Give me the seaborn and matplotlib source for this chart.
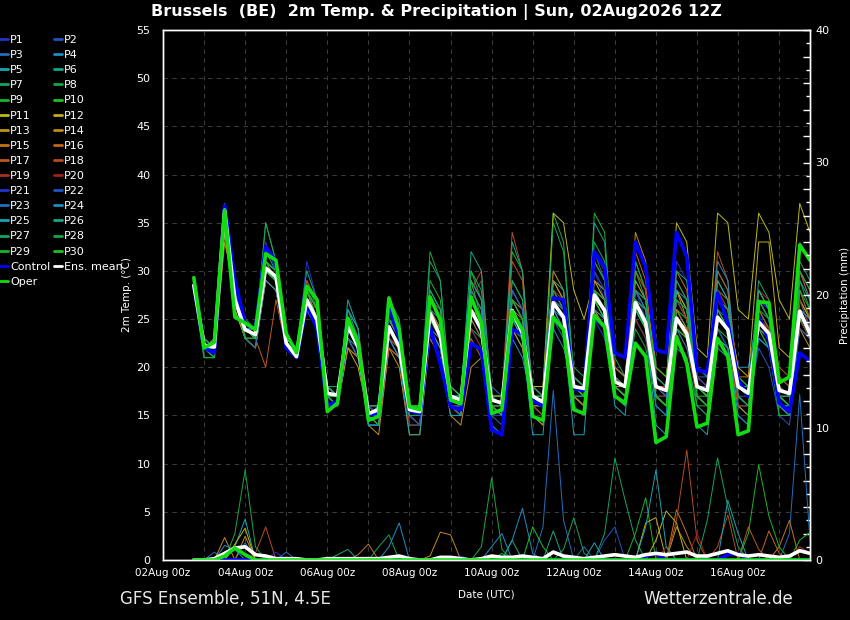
import numpy as np
import pandas as pd
import matplotlib
matplotlib.use('Agg')
import matplotlib.pyplot as plt
import matplotlib.dates as mdates
from matplotlib.lines import Line2D
from matplotlib.ticker import MultipleLocator, FuncFormatter
import seaborn as sns

# 6-hourly steps of the 02Aug2026 12Z run
TIMES = pd.date_range('2026-08-02 18:00', '2026-08-17 18:00', freq='6h')

# perturbed members, 2m temperature (deg C)
MEMBER_TEMP = {
    'P1':  [29, 22,21,36,28, 24,23,31,29, 22,21,28,25, 17,17,25,22, 15,16,23,21, 15,15,26,24, 17,16,24,22, 16,15,27,25, 18,17,28,26, 19,18,30,27, 20,19,28,25, 18,17,23,21, 16,15,22,21, 17,16,27,26, 19,18,30,27],
    'P2':  [29, 23,22,35,27, 23,23,30,29, 23,22,26,24, 18,18,23,21, 16,16,25,23, 16,15,24,22, 16,16,26,24, 17,17,24,22, 16,15,27,26, 18,17,25,24, 17,16,29,27, 19,18,27,25, 20,19,24,22, 17,16,22,20, 15,14,24,23],
    'P3':  [28, 22,22,37,27, 24,24,31,30, 22,21,27,25, 17,16,24,22, 15,15,23,21, 15,15,27,25, 17,17,25,23, 15,14,24,22, 17,16,25,23, 17,16,29,28, 20,19,31,28, 18,17,24,23, 19,19,26,25, 18,17,27,25, 17,16,25,23],
    'P4':  [29, 22,22,36,28, 23,23,29,28, 23,22,26,24, 17,17,25,23, 16,15,25,23, 14,14,24,22, 17,17,27,25, 17,16,23,21, 16,16,28,26, 18,18,27,25, 17,16,25,23, 17,17,28,26, 19,18,27,26, 20,20,26,24, 18,17,27,25],
    'P5':  [28, 22,23,36,27, 24,23,30,29, 22,21,28,26, 18,17,26,23, 14,14,24,22, 16,16,26,24, 16,15,26,24, 17,17,27,25, 15,14,26,25, 19,18,28,26, 19,18,26,24, 16,15,26,24, 18,17,29,27, 16,15,23,22, 16,15,27,24],
    'P6':  [29, 23,22,37,27, 24,24,32,30, 22,21,27,25, 17,17,23,22, 15,16,26,24, 16,15,25,23, 18,17,28,26, 16,16,26,24, 17,17,27,26, 17,16,26,24, 18,18,27,26, 19,18,27,25, 17,16,25,24, 18,18,28,26, 17,16,26,24],
    'P7':  [29, 22,22,35,26, 23,22,29,28, 23,22,29,26, 18,18,24,22, 16,16,27,25, 15,14,28,26, 16,15,24,23, 16,15,29,27, 18,18,30,28, 20,19,33,31, 21,19,27,24, 16,15,24,23, 17,16,22,21, 16,16,26,25, 18,17,29,26],
    'P8':  [28, 21,21,36,27, 24,23,35,31, 23,22,28,26, 17,17,24,22, 15,15,25,23, 16,16,32,29, 17,16,27,25, 17,16,26,24, 16,15,36,33, 19,18,28,26, 18,17,24,22, 17,16,26,24, 16,15,28,26, 19,18,24,23, 16,16,28,25],
    'P9':  [29, 22,21,36,27, 24,24,31,29, 22,21,27,24, 17,16,24,22, 15,15,23,22, 15,15,27,25, 17,16,30,27, 17,16,32,30, 17,17,27,25, 17,16,36,34, 19,18,31,28, 19,18,25,23, 18,17,30,28, 18,17,26,24, 15,15,25,23],
    'P10': [29, 22,22,36,28, 23,23,31,30, 22,21,28,25, 16,16,25,23, 15,15,24,22, 15,14,25,24, 16,16,26,24, 16,15,25,23, 18,17,27,26, 17,17,27,25, 18,17,26,24, 17,16,26,25, 17,17,24,22, 17,16,25,24, 17,16,27,25],
    'P11': [29, 23,22,35,27, 24,24,30,29, 22,22,26,24, 18,17,23,21, 16,15,23,22, 16,16,24,23, 18,17,27,25, 16,16,25,24, 18,18,36,35, 28,25,29,27, 20,19,28,26, 19,18,35,33, 22,21,36,35, 26,25,36,34, 27,25,37,34],
    'P12': [28, 22,21,34,26, 23,22,29,28, 23,22,27,25, 17,16,22,20, 15,14,22,21, 15,15,25,23, 16,16,28,26, 17,17,24,23, 16,16,29,27, 19,18,26,24, 18,18,30,28, 20,19,28,26, 18,17,27,26, 20,19,33,33, 22,21,30,28],
    'P13': [28, 22,21,33,28, 23,23,29,28, 22,21,26,24, 16,16,22,21, 14,13,22,20, 13,13,23,21, 15,14,20,21, 16,15,24,22, 15,14,25,24, 17,16,28,27, 19,18,29,27, 18,17,25,24, 17,16,25,24, 18,17,25,24, 19,18,27,25],
    'P14': [29, 23,22,35,27, 24,23,30,29, 23,22,28,25, 17,17,24,22, 16,15,25,23, 16,16,26,24, 17,16,26,25, 17,17,27,26, 18,17,29,27, 18,18,29,28, 18,17,34,31, 20,19,28,25, 18,17,23,22, 16,15,28,26, 18,17,24,22],
    'P15': [29, 22,22,36,28, 23,22,30,29, 22,22,28,26, 18,17,22,21, 15,15,25,23, 15,14,24,23, 17,17,25,23, 16,15,28,26, 18,17,27,26, 17,16,26,24, 18,18,27,25, 17,16,30,28, 19,18,28,27, 19,19,24,23, 16,15,26,25],
    'P16': [28, 22,21,35,27, 24,24,31,29, 23,22,27,25, 17,16,25,23, 15,15,23,22, 16,15,26,24, 16,15,23,21, 15,15,26,25, 17,16,30,28, 18,17,31,29, 20,19,32,29, 18,17,26,24, 17,16,27,25, 17,16,24,23, 17,17,24,23],
    'P17': [29, 22,23,36,28, 24,23,20,27, 22,21,28,26, 18,17,24,22, 15,14,22,21, 16,16,25,23, 16,15,29,27, 17,16,31,29, 16,15,26,24, 18,17,32,30, 19,18,27,25, 17,16,25,23, 19,18,30,28, 18,17,27,25, 20,19,30,27],
    'P18': [28, 22,22,36,27, 23,23,31,30, 23,22,29,27, 17,17,26,24, 16,16,25,23, 15,15,27,26, 17,16,28,30, 17,17,34,30, 17,16,28,26, 19,18,28,27, 18,17,27,26, 18,18,29,27, 19,18,32,29, 18,17,26,24, 18,17,28,25],
    'P19': [29, 23,22,35,28, 24,23,30,29, 22,21,27,26, 17,16,25,23, 16,15,24,22, 14,14,24,22, 16,16,27,29, 16,15,26,24, 16,15,28,27, 19,18,26,25, 18,17,30,28, 18,17,24,22, 17,16,26,24, 16,16,28,27, 19,18,25,23],
    'P20': [28, 22,21,36,28, 23,23,30,29, 23,22,27,25, 17,16,24,22, 15,15,23,22, 16,15,25,23, 17,16,24,22, 16,16,27,25, 18,17,27,25, 18,17,27,26, 19,18,25,23, 17,17,27,25, 18,18,28,26, 17,16,25,24, 16,15,27,24],
    'P21': [29, 22,21,37,29, 24,24,33,30, 22,21,31,27, 17,17,24,22, 16,15,24,22, 15,14,25,23, 16,16,26,24, 15,15,28,26, 17,16,26,24, 17,17,25,23, 18,17,26,24, 19,18,31,29, 19,18,24,22, 15,14,27,26, 18,17,33,31],
    'P22': [29, 22,22,36,27, 24,23,30,29, 23,22,27,25, 16,16,23,21, 15,15,26,24, 15,15,24,23, 17,17,26,24, 17,16,24,23, 17,16,27,26, 16,15,30,28, 18,17,28,27, 18,17,27,26, 18,18,26,24, 17,17,25,23, 17,16,24,23],
    'P23': [28, 21,21,36,27, 23,22,29,28, 22,21,27,25, 18,17,26,24, 14,14,24,22, 16,16,27,25, 16,15,28,26, 18,17,28,26, 18,17,27,25, 18,17,32,29, 18,17,28,26, 16,15,24,22, 18,17,26,24, 19,18,27,25, 17,16,26,24],
    'P24': [29, 23,22,36,28, 24,24,31,30, 22,22,26,24, 17,17,25,23, 15,15,24,22, 15,15,26,25, 17,17,29,27, 16,15,25,24, 17,16,24,22, 18,18,26,25, 17,16,26,24, 17,16,28,27, 20,19,31,29, 17,16,23,22, 16,16,26,25],
    'P25': [29, 22,22,35,27, 24,23,30,29, 22,21,26,24, 17,16,27,24, 14,14,23,21, 13,13,24,22, 15,15,26,24, 14,13,25,23, 13,13,26,24, 13,13,27,25, 16,15,26,24, 14,13,22,21, 14,13,23,22, 15,14,24,22, 16,15,26,23],
    'P26': [28, 22,21,36,27, 24,23,30,29, 23,22,30,27, 18,17,25,23, 16,16,25,23, 16,16,28,26, 18,17,32,30, 17,16,33,30, 17,16,29,28, 17,17,35,33, 18,17,27,26, 17,16,30,29, 18,17,29,27, 18,17,28,26, 17,17,29,27],
    'P27': [29, 22,21,36,27, 25,24,35,31, 22,21,28,25, 17,17,26,24, 15,15,27,25, 16,16,31,29, 17,17,30,28, 17,16,29,27, 18,17,35,32, 19,18,31,29, 19,18,28,27, 19,18,29,27, 17,16,27,26, 18,17,29,27, 17,16,31,29],
    'P28': [29, 22,22,37,28, 23,23,31,29, 22,21,27,25, 18,17,24,22, 15,14,25,24, 15,15,25,24, 17,16,27,25, 16,16,27,25, 17,16,28,26, 19,18,28,27, 18,17,27,25, 17,16,23,21, 16,16,25,24, 17,16,24,22, 15,15,30,28],
    'P29': [28, 21,21,36,27, 23,23,31,30, 23,22,28,26, 17,17,24,22, 15,15,24,22, 16,16,29,27, 17,16,29,25, 16,15,27,25, 17,17,25,24, 18,17,27,26, 17,16,30,27, 20,19,27,26, 17,16,24,23, 19,18,27,25, 18,17,28,26],
    'P30': [29, 22,22,35,27, 24,23,30,29, 22,21,27,25, 17,16,24,22, 15,15,24,22, 16,15,25,23, 17,16,26,24, 17,17,25,24, 17,16,27,25, 18,17,27,25, 18,17,26,24, 17,16,24,23, 18,17,26,24, 18,17,25,23, 17,16,25,24],
}

CONTROL_TEMP = [28.5, 22.0, 21.5, 36.8, 29.0, 24.5, 24.0, 32.5, 31.0, 22.0,
                21.0, 26.5, 24.0, 16.0, 16.5, 24.5, 22.0, 15.0, 15.3, 26.3,
                23.0, 15.5, 15.2, 24.2, 20.4, 15.9, 15.6, 22.5, 21.8, 13.5,
                13.0, 23.9, 23.5, 16.5, 16.0, 27.2, 27.0, 17.8, 17.6, 32.0,
                30.4, 21.5, 21.0, 33.0, 30.4, 21.8, 21.5, 34.0, 31.5, 19.7,
                19.5, 27.7, 24.6, 18.7, 17.0, 25.2, 22.8, 16.3, 15.4, 21.5, 20.6]
ENS_MEAN_TEMP = [28.5, 22.3, 22.1, 36.3, 27.0, 23.9, 23.4, 30.3, 29.4, 22.5,
                 21.1, 27.0, 24.9, 17.3, 17.1, 24.3, 22.1, 15.2, 15.6, 24.2,
                 22.1, 15.6, 15.4, 25.6, 23.2, 17.0, 16.6, 25.9, 23.9, 16.6,
                 16.3, 25.9, 23.5, 17.0, 16.4, 26.7, 25.2, 18.0, 17.8, 27.5,
                 25.9, 18.5, 18.0, 26.7, 24.6, 18.0, 17.6, 25.1, 23.5, 18.0,
                 17.6, 25.2, 23.9, 18.0, 17.3, 24.7, 23.5, 17.6, 17.3, 25.8, 23.5]
OPER_TEMP = [29.3, 22.0, 22.6, 36.3, 25.2, 24.6, 23.9, 31.8, 31.1, 23.5,
             21.5, 28.4, 27.0, 15.4, 16.3, 25.1, 22.5, 14.5, 14.9, 27.2,
             23.9, 15.9, 15.6, 27.3, 24.9, 16.6, 16.2, 27.3, 24.6, 15.2,
             15.6, 25.8, 23.9, 14.9, 14.5, 25.2, 23.9, 15.6, 15.2, 25.4,
             24.2, 17.0, 16.3, 22.5, 21.1, 12.2, 12.8, 23.2, 20.4, 13.8,
             14.2, 23.0, 21.1, 13.0, 13.4, 26.8, 26.7, 18.4, 19.0, 32.7, 31.1]

# precipitation (mm / 6h): only the non-zero steps of each member, step index -> mm
MEMBER_PRECIP = {
    'P3':  {2: 0.6, 5: 1.3, 9: 0.6, 34: 2.5, 35: 12.8, 36: 3.0, 58: 2.0, 59: 12.5, 60: 1.5},
    'P4':  {19: 1.0, 20: 2.8, 31: 1.5, 32: 3.9, 33: 0.5},
    'P5':  {4: 1.0, 5: 3.1},
    'P6':  {31: 1.5, 35: 2.2},
    'P7':  {18: 1.0, 19: 1.9, 40: 2.0, 41: 7.7, 42: 4.5, 43: 1.5},
    'P8':  {4: 2.0, 5: 6.8, 6: 1.0, 28: 1.0, 29: 6.2, 30: 0.8},
    'P9':  {43: 2.0, 44: 4.7, 54: 2.0, 55: 7.2, 56: 3.3, 57: 1.0},
    'P10': {33: 2.5, 34: 1.0},
    'P11': {4: 1.2, 5: 2.4, 45: 1.5, 46: 3.7, 47: 2.8},
    'P12': {44: 2.8, 45: 3.2},
    'P13': {47: 2.5, 48: 1.0},
    'P14': {3: 1.7, 5: 1.8, 23: 0.3, 24: 2.1, 25: 1.9},
    'P15': {16: 0.4, 17: 1.2, 47: 3.8, 48: 2.0, 57: 1.0, 58: 3.0},
    'P16': {56: 2.2, 57: 0.5},
    'P17': {54: 2.5, 55: 0.8},
    'P18': {6: 0.5, 7: 2.5, 47: 3.0, 48: 8.3, 49: 1.5, 51: 1.0, 52: 3.4},
    'P19': {59: 1.0, 60: 0.5},
    'P20': {46: 1.0, 49: 2.0},
    'P21': {8: 0.6, 26: 0.3},
    'P22': {40: 1.5, 41: 2.5},
    'P23': {38: 1.0},
    'P24': {3: 1.1, 4: 0.8, 29: 1.0, 30: 2.0},
    'P25': {39: 1.3, 44: 2.5, 45: 6.8, 46: 1.0, 52: 4.5, 53: 2.0},
    'P26': {14: 0.4, 15: 0.8},
    'P27': {36: 0.8, 37: 3.2, 38: 0.5, 50: 3.0, 51: 7.7, 52: 4.0, 53: 1.0},
    'P29': {30: 0.5, 59: 1.5, 60: 2.1},
}
CONTROL_PRECIP = {44: 0.3, 45: 0.5, 52: 0.4, 53: 0.5}
OPER_PRECIP = {3: 0.3, 4: 0.9, 5: 0.4}
ENS_MEAN_PRECIP = [0, 0, 0.1, 0.5, 0.9, 1.0, 0.4, 0.3, 0.1, 0.1,
                   0.1, 0, 0, 0.1, 0.1, 0.1, 0.1, 0.1, 0.1, 0.2,
                   0.3, 0.1, 0, 0, 0.2, 0.2, 0.1, 0, 0.1, 0.3,
                   0.2, 0.2, 0.3, 0.2, 0.1, 0.6, 0.3, 0.2, 0.1, 0.2,
                   0.3, 0.4, 0.3, 0.2, 0.4, 0.5, 0.4, 0.5, 0.6, 0.3,
                   0.3, 0.5, 0.7, 0.4, 0.3, 0.4, 0.3, 0.2, 0.3, 0.7, 0.5]

BASE_COLORS = ['#2233cc', '#1f55c4', '#1e6fbf', '#1a8fc4', '#17a5b5',
               '#12a88a', '#12a463', '#14a845', '#16b52a', '#1ec41a',
               '#bdbb12', '#c4ad10', '#c49512', '#c48a12', '#c27415',
               '#c26718', '#c0561e', '#b84a20', '#a83022', '#a02020']
MEMBER_NAMES = list(MEMBER_TEMP.keys())
MEMBER_COLORS = {name: BASE_COLORS[i % 20] if i < 20 else BASE_COLORS[i - 20]
                 for i, name in enumerate(MEMBER_NAMES)}
CONTROL_COLOR = '#0000ff'
OPER_COLOR = '#11dd11'
MEAN_COLOR = '#ffffff'
FG = 'white'


def spikes_to_series(spikes):
    values = np.zeros(len(TIMES))
    for k, v in spikes.items():
        values[k] = v
    return values


frames = []
for name in MEMBER_NAMES:
    frames.append(pd.DataFrame({
        'time': TIMES,
        'temp': MEMBER_TEMP[name],
        'precip': spikes_to_series(MEMBER_PRECIP.get(name, {})),
        'member': name,
    }))
members = pd.concat(frames, ignore_index=True)

sns.set_style('dark', {'axes.facecolor': 'black', 'figure.facecolor': 'black'})
plt.rcParams['font.family'] = ['DejaVu Sans']

fig = plt.figure(figsize=(8.5, 6.2), dpi=100, facecolor='black')
ax = fig.add_axes([163 / 850, 60 / 620, 647 / 850, 530 / 620])
ax.set_facecolor('black')
ax2 = ax.twinx()
ax2.patch.set_visible(False)

# temperature
sns.lineplot(data=members, x='time', y='temp', hue='member', hue_order=MEMBER_NAMES,
             palette=MEMBER_COLORS, lw=0.7, estimator=None, legend=False, ax=ax)
sns.lineplot(x=TIMES, y=CONTROL_TEMP, color=CONTROL_COLOR, lw=2.6, ax=ax)
sns.lineplot(x=TIMES, y=ENS_MEAN_TEMP, color=MEAN_COLOR, lw=2.6, ax=ax)
sns.lineplot(x=TIMES, y=OPER_TEMP, color=OPER_COLOR, lw=2.6, ax=ax)

# precipitation on the right axis
sns.lineplot(data=members, x='time', y='precip', hue='member', hue_order=MEMBER_NAMES,
             palette=MEMBER_COLORS, lw=0.7, estimator=None, legend=False, ax=ax2)
sns.lineplot(x=TIMES, y=spikes_to_series(CONTROL_PRECIP), color=CONTROL_COLOR, lw=2.6, ax=ax2)
sns.lineplot(x=TIMES, y=ENS_MEAN_PRECIP, color=MEAN_COLOR, lw=2.6, ax=ax2)
sns.lineplot(x=TIMES, y=spikes_to_series(OPER_PRECIP), color=OPER_COLOR, lw=2.6, ax=ax2)

ax.set_xlim(pd.Timestamp('2026-08-02 00:00'), pd.Timestamp('2026-08-17 18:00'))
ax.set_ylim(0, 55)
ax2.set_ylim(0, 40)

ax.xaxis.set_major_locator(mdates.DayLocator(bymonthday=range(2, 31, 2)))
ax.xaxis.set_minor_locator(mdates.DayLocator())
ax.xaxis.set_major_formatter(mdates.DateFormatter('%d%b %Hz'))
ax.yaxis.set_major_locator(MultipleLocator(5))
ax2.yaxis.set_major_locator(MultipleLocator(2))
ax2.yaxis.set_minor_locator(MultipleLocator(1))
ax2.yaxis.set_major_formatter(FuncFormatter(lambda v, p: f'{v:.0f}' if v % 10 == 0 else ''))

ax.grid(True, which='both', axis='x', color='#3a3a3a', ls=(0, (4, 4)), lw=0.8)
ax.grid(True, which='major', axis='y', color='#3a3a3a', ls=(0, (4, 4)), lw=0.8)
ax2.grid(False)

ax.tick_params(axis='both', which='both', length=0, colors=FG, labelsize=7.5)
ax.tick_params(axis='y', pad=9, labelsize=8)
ax.tick_params(axis='x', pad=6)
ax2.tick_params(axis='y', which='major', direction='in', length=5, width=1,
                colors=FG, labelsize=8, pad=4)
ax2.tick_params(axis='y', which='minor', direction='in', length=3, width=1, color=FG)

for a in (ax, ax2):
    for sp in a.spines.values():
        sp.set_color(FG)
        sp.set_linewidth(1)
        sp.set_visible(True)

ax.set_xlabel('Date (UTC)', color=FG, fontsize=7.5)
ax.xaxis.set_label_coords(0.5, -0.055)
ax.set_ylabel('2m Temp. (°C)', color=FG, fontsize=7.5)
ax.yaxis.set_label_coords(-0.048, 0.5)
ax2.set_ylabel('Precipitation (mm)', color=FG, fontsize=7.5)
ax2.yaxis.set_label_coords(1.046, 0.5)

fig.text(0.513, 0.981, 'Brussels  (BE)  2m Temp. & Precipitation | Sun, 02Aug2026 12Z',
         ha='center', va='center', fontsize=11.5, fontweight='bold', color=FG)
fig.text(120 / 850, 1 - 599 / 620, 'GFS Ensemble, 51N, 4.5E', ha='left', va='center',
         fontsize=12, color='#e8e8e8')
fig.text(793 / 850, 1 - 599 / 620, 'Wetterzentrale.de', ha='right', va='center',
         fontsize=12, color='#e8e8e8')

# legend laid out row by row in two columns
left_col = [f'P{i}' for i in range(1, 31, 2)] + ['Control', 'Oper']
right_col = [f'P{i}' for i in range(2, 31, 2)] + ['Ens. mean']
label_colors = dict(MEMBER_COLORS, **{'Control': CONTROL_COLOR, 'Oper': OPER_COLOR,
                                      'Ens. mean': MEAN_COLOR})
labels = left_col + right_col
handles = [Line2D([], [], color=label_colors[l], lw=2) for l in labels]
fig.legend(handles, labels, loc='upper left', bbox_to_anchor=(0.0, 1 - 35 / 620), ncol=2,
           frameon=False, fontsize=8, handlelength=0.75, handletextpad=0.15,
           columnspacing=0.35, labelspacing=0.46, borderpad=0, borderaxespad=0,
           labelcolor=FG)

fig.savefig('out.png', dpi=100, facecolor='black')
